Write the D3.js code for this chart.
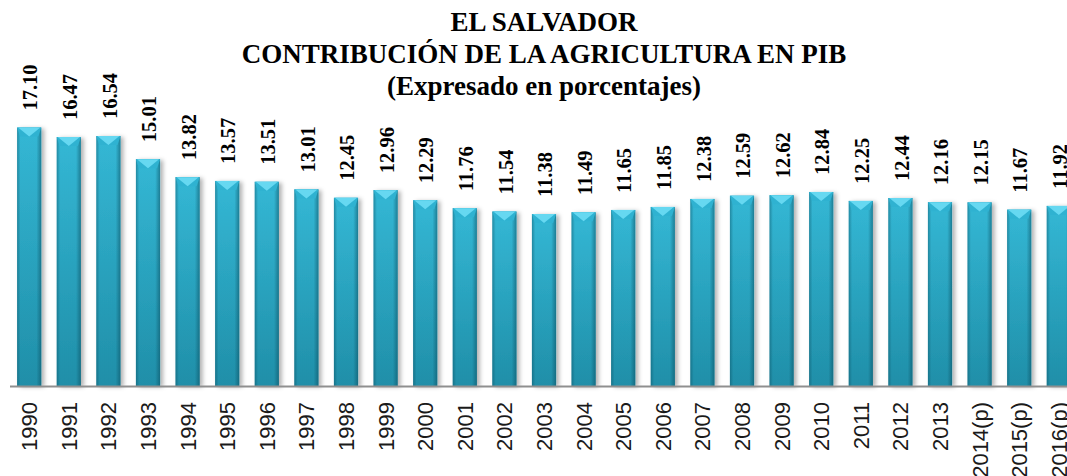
<!DOCTYPE html>
<html>
<head>
<meta charset="utf-8">
<script src="https://cdn.jsdelivr.net/npm/d3@7"></script>
<style>
  html, body { margin: 0; padding: 0; background: #fff; overflow: hidden; }
  #chart { display: block; width: 1067px; height: 476px; }
</style>
</head>
<body>
<svg id="chart"></svg>
<script>
// categories (years, p = preliminary)
const years = [
  '1990', '1991', '1992', '1993', '1994', '1995', '1996', '1997', '1998',
  '1999', '2000', '2001', '2002', '2003', '2004', '2005', '2006', '2007',
  '2008', '2009', '2010', '2011', '2012', '2013', '2014(p)', '2015(p)', '2016(p)'
]
// share of agriculture in GDP, %
const values = [
  17.10, 16.47, 16.54, 15.01, 13.82, 13.57, 13.51, 13.01, 12.45,
  12.96, 12.29, 11.76, 11.54, 11.38, 11.49, 11.65, 11.85, 12.38,
  12.59, 12.62, 12.84, 12.25, 12.44, 12.16, 12.15, 11.67, 11.92
]
const titleLines = [
  'EL SALVADOR',
  'CONTRIBUCIÓN DE LA AGRICULTURA EN PIB',
  '(Expresado en porcentajes)'
]

function makeBars() {
  const svg = d3.select('#chart')
  const width = 1067
  const height = 476
  const baseline = 386

  svg.attr('width', width).attr('height', height)

  const data = years.map((y, i) => ({ year: y, value: values[i] }))

  // x: one band per year, the last bar runs off the right edge like the original
  const x = d3.scaleBand()
    .domain(years)
    .range([9.4, 1078.6])
    .paddingInner(0.39)
    .paddingOuter(0.195)

  // y: percent -> pixels
  const y = d3.scaleLinear()
    .domain([0, 18])
    .range([baseline, 114])

  const defs = svg.append('defs')

  // body colour, light at top, darker at the base
  const body = defs.append('linearGradient')
    .attr('id', 'body').attr('x1', 0).attr('y1', 0).attr('x2', 0).attr('y2', 1)
  body.append('stop').attr('offset', '0%').attr('stop-color', '#36bddb')
  body.append('stop').attr('offset', '100%').attr('stop-color', '#2192ac')

  // darker edges left and right for the rounded look
  const sides = defs.append('linearGradient')
    .attr('id', 'sides').attr('x1', 0).attr('y1', 0).attr('x2', 1).attr('y2', 0)
  sides.append('stop').attr('offset', '0%').attr('stop-color', '#0a4c5e').attr('stop-opacity', 0.45)
  sides.append('stop').attr('offset', '14%').attr('stop-color', '#0a4c5e').attr('stop-opacity', 0.05)
  sides.append('stop').attr('offset', '80%').attr('stop-color', '#0a4c5e').attr('stop-opacity', 0.05)
  sides.append('stop').attr('offset', '100%').attr('stop-color', '#0a4c5e').attr('stop-opacity', 0.55)

  // soft shadow on the right side of every bar
  const shadow = defs.append('filter')
    .attr('id', 'shadow').attr('x', '-20%').attr('y', '-5%').attr('width', '160%').attr('height', '110%')
  shadow.append('feDropShadow')
    .attr('dx', 3).attr('dy', 1).attr('stdDeviation', 2)
    .attr('flood-color', '#000').attr('flood-opacity', 0.3)

  // title, three centred lines
  svg.append('g')
    .selectAll('text')
    .data(titleLines)
    .enter()
    .append('text')
    .attr('x', 544)
    .attr('y', (d, i) => 31 + i * 32)
    .attr('text-anchor', 'middle')
    .attr('font-family', '"Liberation Serif", "Times New Roman", serif')
    .attr('font-weight', 'bold')
    .attr('font-size', '27px')
    .attr('fill', '#000')
    .text(d => d)

  const bars = svg.append('g')
    .selectAll('g')
    .data(data)
    .enter()
    .append('g')

  // main bar with shadow
  bars.append('rect')
    .attr('x', d => x(d.year))
    .attr('y', d => y(d.value))
    .attr('width', x.bandwidth())
    .attr('height', d => baseline - y(d.value))
    .attr('fill', 'url(#body)')
    .attr('filter', 'url(#shadow)')

  // edge shading
  bars.append('rect')
    .attr('x', d => x(d.year))
    .attr('y', d => y(d.value))
    .attr('width', x.bandwidth())
    .attr('height', d => baseline - y(d.value))
    .attr('fill', 'url(#sides)')

  // bevelled top: two side facets and a light triangle pointing down
  const bevel = 9
  bars.append('path')
    .attr('d', d => {
      const x0 = x(d.year), x1 = x0 + x.bandwidth(), t = y(d.value)
      return `M${x0},${t}L${x0 + 3},${t + bevel}L${x1 - 3},${t + bevel}L${x1},${t}Z`
    })
    .attr('fill', '#2fb2d1')
  bars.append('path')
    .attr('d', d => {
      const x0 = x(d.year), x1 = x0 + x.bandwidth(), t = y(d.value)
      return `M${x0 + 1},${t}L${x1 - 1},${t}L${(x0 + x1) / 2},${t + bevel}Z`
    })
    .attr('fill', '#66d8f1')

  // value labels, rotated, above each bar
  bars.append('text')
    .attr('transform', d => `translate(${x(d.year) + x.bandwidth() / 2 + 1},${y(d.value) - 17}) rotate(-90)`)
    .attr('dy', '0.35em')
    .attr('text-anchor', 'start')
    .attr('font-family', '"Liberation Serif", "Times New Roman", serif')
    .attr('font-weight', 'bold')
    .attr('font-size', '20.5px')
    .attr('fill', '#000')
    .text(d => d3.format('.2f')(d.value))

  // x axis: grey base line and rotated year labels
  const axis = svg.append('g')
    .attr('transform', `translate(0,${baseline})`)
    .call(d3.axisBottom(x).tickSize(0).tickPadding(0))
  axis.select('.domain')
    .attr('d', `M10,0.5H${width}`)
    .attr('stroke', '#8f8f8f')
    .attr('stroke-width', 2)
  axis.selectAll('text')
    .attr('transform', 'rotate(-90)')
    .attr('x', -16)
    .attr('y', 0)
    .attr('dy', '0.36em')
    .attr('text-anchor', 'end')
    .attr('font-family', '"Liberation Sans", Arial, sans-serif')
    .attr('font-size', '22px')
    .attr('fill', '#1a1a1a')
}

window.onload = makeBars
</script>
</body>
</html>
